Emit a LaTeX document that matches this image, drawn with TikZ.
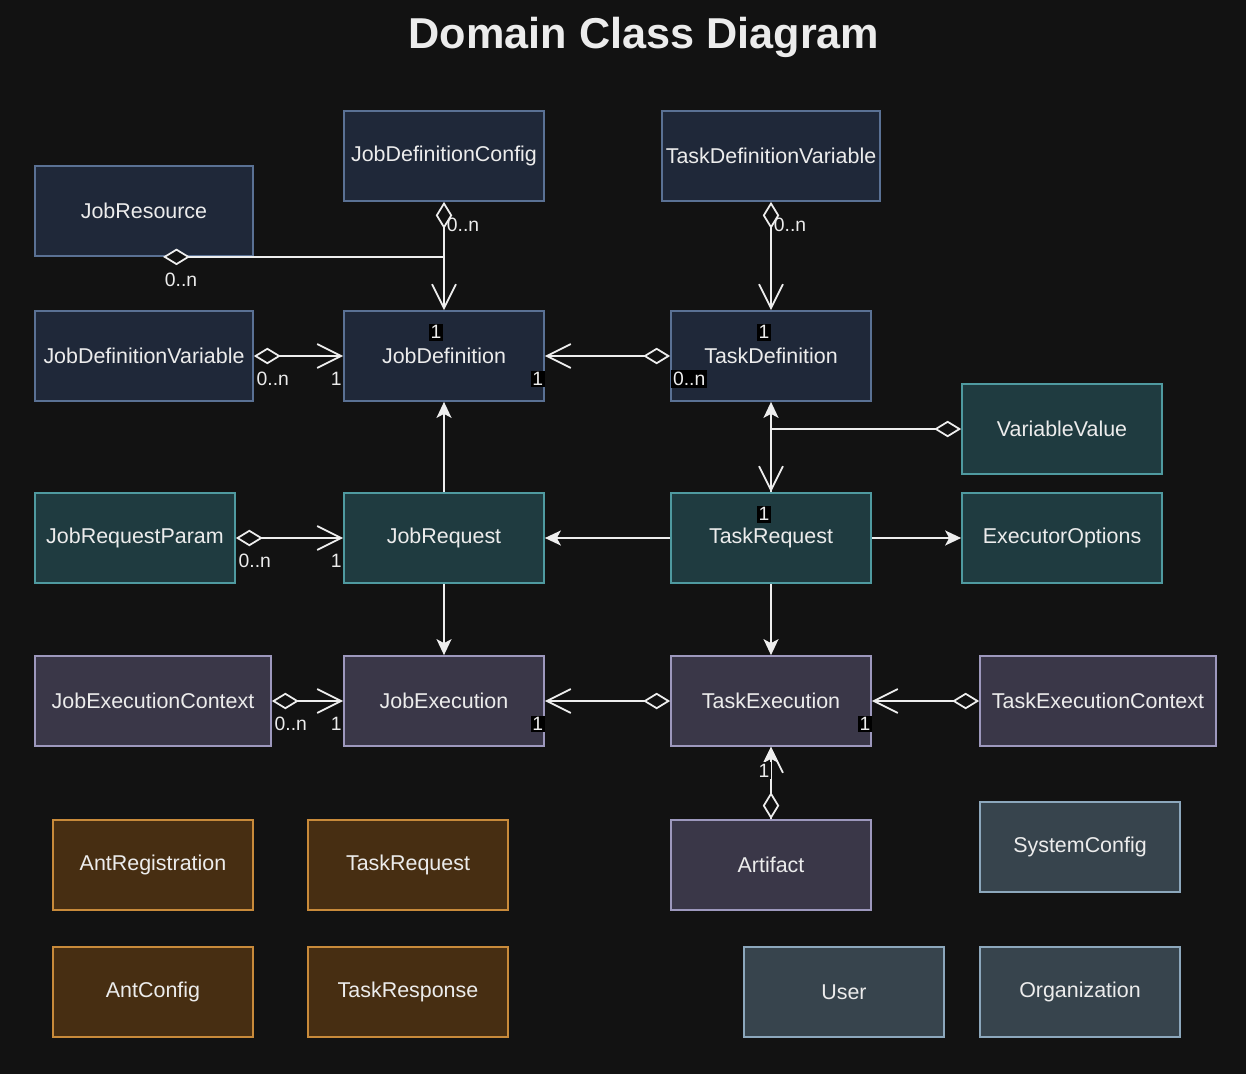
\documentclass[tikz,border=0pt]{standalone}
\usepackage{fontspec}
\setmainfont{Liberation Sans}
\usetikzlibrary{arrows.meta, calc}
\definecolor{bgcol}{HTML}{121212}
\definecolor{textcol}{HTML}{ECECEC}
\definecolor{wirecol}{HTML}{EEEEEE}
\definecolor{bluefill}{HTML}{1F2839}
\definecolor{blueline}{HTML}{5A7194}
\definecolor{tealfill}{HTML}{1F3B40}
\definecolor{tealline}{HTML}{4F9AA0}
\definecolor{purplefill}{HTML}{3A3748}
\definecolor{purpleline}{HTML}{9D98BD}
\definecolor{brownfill}{HTML}{472E12}
\definecolor{brownline}{HTML}{C88A3A}
\definecolor{slatefill}{HTML}{37444D}
\definecolor{slateline}{HTML}{8CA7BC}
\tikzset{
    my-class/.style={
      draw, rectangle, line width=1pt, minimum width=4cm, minimum height=1.8cm,
      inner sep=0pt, text=textcol, font=\fontsize{12.2}{14}\selectfont
    },
    my-blue-class/.style={
      my-class, fill=bluefill, draw=blueline
    },
    my-teal-class/.style={
      my-class, fill=tealfill, draw=tealline
    },
    my-purple-class/.style={
      my-class, fill=purplefill, draw=purpleline
    },
    my-brown-class/.style={
      my-class, fill=brownfill, draw=brownline
    },
    my-slate-class/.style={
      my-class, fill=slatefill, draw=slateline
    },
    my-mult/.style={
      text=textcol, inner sep=1pt, font=\fontsize{11}{13}\selectfont
    },
    my-mult-box/.style={
      my-mult, fill=black
    },
    my-wire/.style={
      draw=wirecol, line width=1pt
    },
    my-aggregation/.style={
      my-wire, {Diamond[fill=bgcol, length=0.54cm, width=0.33cm]}-{Straight Barb[length=0.48cm, width=0.48cm]}
    },
    my-navigation/.style={
      my-wire, -{Stealth[length=0.32cm, width=0.3cm, inset=0.08cm]}
    },
}

\begin{document}
\begin{tikzpicture}[x=0.02cm, y=-0.02cm]

        % BACKGROUND
        \fill[bgcol] (0,0) rectangle (1246,1074);

        % TITLE
        \node[text=textcol, font=\fontsize{24.6}{28}\bfseries] (TITLE) at (644,37) {Domain Class Diagram};

        % DEFINITION CLASSES
        \node[my-blue-class]                        (JOBDEFCFG)  at (444,156) {JobDefinitionConfig};
        \node[my-blue-class, minimum width=4.36cm]  (TASKDEFVAR) at (771,156) {TaskDefinitionVariable};
        \node[my-blue-class, minimum width=4.36cm]  (JOBRES)     at (144,211) {JobResource};
        \node[my-blue-class, minimum width=4.36cm]  (JOBDEFVAR)  at (144,356) {JobDefinitionVariable};
        \node[my-blue-class]                        (JOBDEF)     at (444,356) {JobDefinition};
        \node[my-blue-class]                        (TASKDEF)    at (771,356) {TaskDefinition};

        % REQUEST CLASSES
        \node[my-teal-class]                        (VARVAL)     at (1062,429) {VariableValue};
        \node[my-teal-class]                        (JOBREQPAR)  at (135,538)  {JobRequestParam};
        \node[my-teal-class]                        (JOBREQ)     at (444,538)  {JobRequest};
        \node[my-teal-class]                        (TASKREQ)    at (771,538)  {TaskRequest};
        \node[my-teal-class]                        (EXECOPT)    at (1062,538) {ExecutorOptions};

        % EXECUTION CLASSES
        \node[my-purple-class, minimum width=4.72cm] (JOBEXECCTX)  at (153,701)  {JobExecutionContext};
        \node[my-purple-class]                       (JOBEXEC)     at (444,701)  {JobExecution};
        \node[my-purple-class]                       (TASKEXEC)    at (771,701)  {TaskExecution};
        \node[my-purple-class, minimum width=4.72cm] (TASKEXECCTX) at (1098,701) {TaskExecutionContext};
        \node[my-purple-class]                       (ARTIFACT)    at (771,865)  {Artifact};

        % ANT CLASSES
        \node[my-brown-class] (ANTREG)   at (153,865) {AntRegistration};
        \node[my-brown-class] (ANTREQ)   at (408,865) {TaskRequest};
        \node[my-brown-class] (ANTCFG)   at (153,992) {AntConfig};
        \node[my-brown-class] (ANTRESP)  at (408,992) {TaskResponse};

        % SYSTEM CLASSES
        \node[my-slate-class] (SYSCFG)   at (1080,847) {SystemConfig};
        \node[my-slate-class] (USER)     at (844,992)  {User};
        \node[my-slate-class] (ORG)      at (1080,992) {Organization};

        % CONNECTOR POINTS
        \coordinate (JOBRESOUT)  at ($(JOBRES.south) + (19,0)$);
        \coordinate (JOBDEFIN)   at (JOBDEF.north |- JOBRESOUT);

        % DEFINITION CONNECTIONS
        \draw[my-aggregation] (JOBDEFCFG.south) -- (JOBDEF.north);
        \draw[my-wire, {Diamond[fill=bgcol, length=0.54cm, width=0.33cm]}-] (JOBRESOUT) -- (JOBDEFIN);
        \draw[my-aggregation] (TASKDEFVAR.south) -- (TASKDEF.north);
        \draw[my-aggregation] (JOBDEFVAR.east) -- (JOBDEF.west);
        \draw[my-aggregation] (TASKDEF.west) -- (JOBDEF.east);

        % REQUEST CONNECTIONS
        \draw[my-navigation] (TASKREQ.north) -- (TASKDEF.south);
        \draw[my-aggregation] (VARVAL.west) -| (TASKREQ.north);
        \draw[my-navigation] (JOBREQ.north) -- (JOBDEF.south);
        \draw[my-aggregation] (JOBREQPAR.east) -- (JOBREQ.west);
        \draw[my-navigation] (TASKREQ.west) -- (JOBREQ.east);
        \draw[my-navigation] (TASKREQ.east) -- (EXECOPT.west);

        % EXECUTION CONNECTIONS
        \draw[my-navigation] (JOBREQ.south) -- (JOBEXEC.north);
        \draw[my-navigation] (TASKREQ.south) -- (TASKEXEC.north);
        \draw[my-aggregation] (JOBEXECCTX.east) -- (JOBEXEC.west);
        \draw[my-aggregation] (TASKEXEC.west) -- (JOBEXEC.east);
        \draw[my-aggregation] (TASKEXECCTX.west) -- (TASKEXEC.east);
        \draw[my-navigation] (ARTIFACT.north) -- (TASKEXEC.south);
        \draw[my-aggregation] (ARTIFACT.north) -- (TASKEXEC.south);

        % LABELS
        \node[my-mult]     (L1)  at ($(JOBDEFCFG.south) + (19,23)$)  {0..n};
        \node[my-mult]     (L2)  at ($(JOBRES.south) + (37,23)$)     {0..n};
        \node[my-mult]     (L3)  at ($(TASKDEFVAR.south) + (19,23)$) {0..n};
        \node[my-mult-box] (L4)  at ($(JOBDEF.north) + (-8,22)$)     {1};
        \node[my-mult-box] (L5)  at ($(TASKDEF.north) + (-7,22)$)    {1};
        \node[my-mult]     (L6)  at ($(JOBDEFVAR.east) + (19,23)$)   {0..n};
        \node[my-mult]     (L7)  at ($(JOBDEF.west) + (-7,23)$)      {1};
        \node[my-mult-box] (L8)  at ($(JOBDEF.east) + (-7,23)$)      {1};
        \node[my-mult-box] (L9)  at ($(TASKDEF.west) + (19,23)$)     {0..n};
        \node[my-mult-box] (L10) at ($(TASKREQ.north) + (-7,22)$)    {1};
        \node[my-mult]     (L11) at ($(JOBREQPAR.east) + (19,23)$)   {0..n};
        \node[my-mult]     (L12) at ($(JOBREQ.west) + (-7,23)$)      {1};
        \node[my-mult]     (L13) at ($(JOBEXECCTX.east) + (19,23)$)  {0..n};
        \node[my-mult]     (L14) at ($(JOBEXEC.west) + (-7,23)$)     {1};
        \node[my-mult-box] (L15) at ($(JOBEXEC.east) + (-7,23)$)     {1};
        \node[my-mult-box] (L16) at ($(TASKEXEC.east) + (-7,23)$)    {1};
        \node[my-mult-box, fill=bgcol] (L17) at ($(TASKEXEC.south) + (-7,24)$) {1};

    \end{tikzpicture}
\end{document}
